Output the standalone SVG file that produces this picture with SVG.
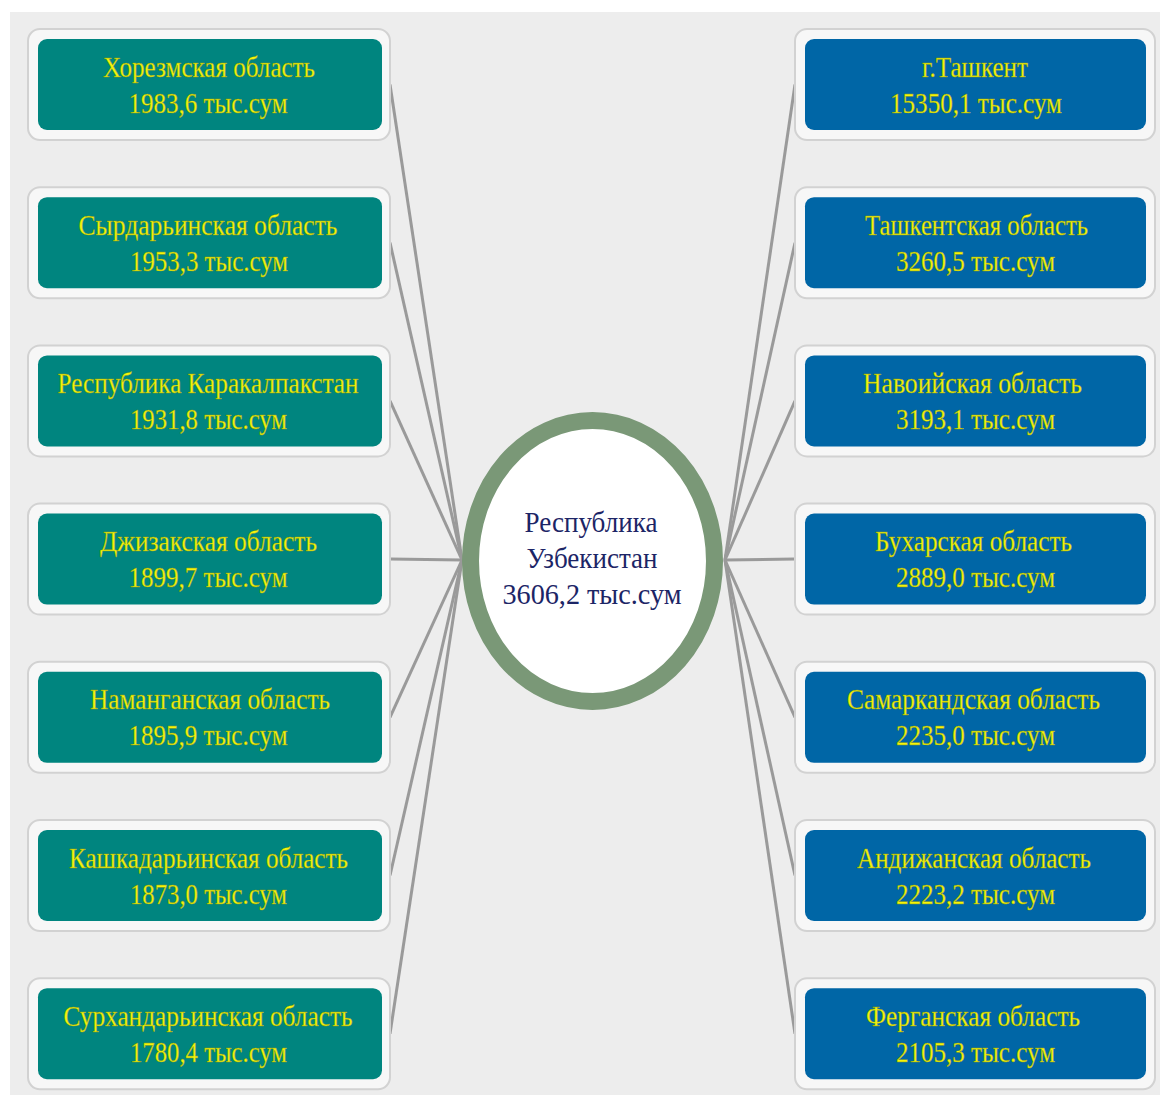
<svg xmlns="http://www.w3.org/2000/svg" width="1160" height="1097" viewBox="0 0 1160 1097">
<style>
.outer{fill:#f7f7f7;stroke:#d2d2d2;stroke-width:2}
.tl{fill:#00857f}
.bl{fill:#0066a6}
.t{font-family:"Liberation Serif","Times New Roman",serif;font-size:29px;fill:#f4f40c;text-anchor:middle;stroke:#8a9a10;stroke-width:0.4}
.c{font-family:"Liberation Serif","Times New Roman",serif;font-size:29px;fill:#1c2566;text-anchor:middle}
.ln{stroke:#9a9a9a;stroke-width:3;fill:none}
</style>
<rect x="10" y="12" width="1150" height="1083" fill="#ededed"/>
<g id="connectors">
<line class="ln" x1="390" y1="84.5" x2="462" y2="560"/>
<line class="ln" x1="390" y1="242.7" x2="462" y2="560"/>
<line class="ln" x1="390" y1="400.9" x2="462" y2="560"/>
<line class="ln" x1="390" y1="559.1" x2="462" y2="560"/>
<line class="ln" x1="390" y1="717.3" x2="462" y2="560"/>
<line class="ln" x1="390" y1="875.5" x2="462" y2="560"/>
<line class="ln" x1="390" y1="1033.7" x2="462" y2="560"/>
<line class="ln" x1="795" y1="84.5" x2="725" y2="560"/>
<line class="ln" x1="795" y1="242.7" x2="725" y2="560"/>
<line class="ln" x1="795" y1="400.9" x2="725" y2="560"/>
<line class="ln" x1="795" y1="559.1" x2="725" y2="560"/>
<line class="ln" x1="795" y1="717.3" x2="725" y2="560"/>
<line class="ln" x1="795" y1="875.5" x2="725" y2="560"/>
<line class="ln" x1="795" y1="1033.7" x2="725" y2="560"/>
</g>
<g id="center">
<ellipse cx="592.5" cy="561" rx="122" ry="140.5" fill="#ffffff" stroke="#7a9877" stroke-width="17"/>
<text class="c" x="591" y="532" textLength="133" lengthAdjust="spacingAndGlyphs">Республика</text>
<text class="c" x="592" y="568" textLength="131" lengthAdjust="spacingAndGlyphs">Узбекистан</text>
<text class="c" x="592" y="604" textLength="179" lengthAdjust="spacingAndGlyphs">3606,2 тыс.сум</text>
</g>
<g id="n-khorezm">
<rect class="outer" x="28" y="29" width="362" height="111" rx="12"/>
<rect class="tl" x="38" y="39" width="344" height="91" rx="9"/>
<text class="t" x="209" y="76.5" textLength="212" lengthAdjust="spacingAndGlyphs">Хорезмская область</text>
<text class="t" x="208" y="112.5" textLength="159" lengthAdjust="spacingAndGlyphs">1983,6 тыс.сум</text>
</g>
<g id="n-syrdarya">
<rect class="outer" x="28" y="187.2" width="362" height="111" rx="12"/>
<rect class="tl" x="38" y="197.2" width="344" height="91" rx="9"/>
<text class="t" x="208" y="234.7" textLength="259" lengthAdjust="spacingAndGlyphs">Сырдарьинская область</text>
<text class="t" x="209" y="270.7" textLength="158" lengthAdjust="spacingAndGlyphs">1953,3 тыс.сум</text>
</g>
<g id="n-karakalpakstan">
<rect class="outer" x="28" y="345.4" width="362" height="111" rx="12"/>
<rect class="tl" x="38" y="355.4" width="344" height="91" rx="9"/>
<text class="t" x="208" y="392.9" textLength="301" lengthAdjust="spacingAndGlyphs">Республика Каракалпакстан</text>
<text class="t" x="208.5" y="428.9" textLength="157" lengthAdjust="spacingAndGlyphs">1931,8 тыс.сум</text>
</g>
<g id="n-jizzakh">
<rect class="outer" x="28" y="503.6" width="362" height="111" rx="12"/>
<rect class="tl" x="38" y="513.6" width="344" height="91" rx="9"/>
<text class="t" x="208.5" y="551.1" textLength="217" lengthAdjust="spacingAndGlyphs">Джизакская область</text>
<text class="t" x="208" y="587.1" textLength="159" lengthAdjust="spacingAndGlyphs">1899,7 тыс.сум</text>
</g>
<g id="n-namangan">
<rect class="outer" x="28" y="661.8" width="362" height="111" rx="12"/>
<rect class="tl" x="38" y="671.8" width="344" height="91" rx="9"/>
<text class="t" x="210" y="709.3" textLength="240" lengthAdjust="spacingAndGlyphs">Наманганская область</text>
<text class="t" x="208" y="745.3" textLength="159" lengthAdjust="spacingAndGlyphs">1895,9 тыс.сум</text>
</g>
<g id="n-kashkadarya">
<rect class="outer" x="28" y="820" width="362" height="111" rx="12"/>
<rect class="tl" x="38" y="830" width="344" height="91" rx="9"/>
<text class="t" x="208.5" y="867.5" textLength="279" lengthAdjust="spacingAndGlyphs">Кашкадарьинская область</text>
<text class="t" x="208.5" y="903.5" textLength="157" lengthAdjust="spacingAndGlyphs">1873,0 тыс.сум</text>
</g>
<g id="n-surkhandarya">
<rect class="outer" x="28" y="978.2" width="362" height="111" rx="12"/>
<rect class="tl" x="38" y="988.2" width="344" height="91" rx="9"/>
<text class="t" x="208" y="1025.7" textLength="289" lengthAdjust="spacingAndGlyphs">Сурхандарьинская область</text>
<text class="t" x="208.5" y="1061.7" textLength="157" lengthAdjust="spacingAndGlyphs">1780,4 тыс.сум</text>
</g>
<g id="n-tashkent-city">
<rect class="outer" x="795" y="29" width="360" height="111" rx="12"/>
<rect class="bl" x="805" y="39" width="341" height="91" rx="9"/>
<text class="t" x="975" y="76.5" textLength="106" lengthAdjust="spacingAndGlyphs">г.Ташкент</text>
<text class="t" x="976" y="112.5" textLength="172" lengthAdjust="spacingAndGlyphs">15350,1 тыс.сум</text>
</g>
<g id="n-tashkent-region">
<rect class="outer" x="795" y="187.2" width="360" height="111" rx="12"/>
<rect class="bl" x="805" y="197.2" width="341" height="91" rx="9"/>
<text class="t" x="976.5" y="234.7" textLength="223" lengthAdjust="spacingAndGlyphs">Ташкентская область</text>
<text class="t" x="975.5" y="270.7" textLength="159" lengthAdjust="spacingAndGlyphs">3260,5 тыс.сум</text>
</g>
<g id="n-navoi">
<rect class="outer" x="795" y="345.4" width="360" height="111" rx="12"/>
<rect class="bl" x="805" y="355.4" width="341" height="91" rx="9"/>
<text class="t" x="972.5" y="392.9" textLength="219" lengthAdjust="spacingAndGlyphs">Навоийская область</text>
<text class="t" x="975.5" y="428.9" textLength="159" lengthAdjust="spacingAndGlyphs">3193,1 тыс.сум</text>
</g>
<g id="n-bukhara">
<rect class="outer" x="795" y="503.6" width="360" height="111" rx="12"/>
<rect class="bl" x="805" y="513.6" width="341" height="91" rx="9"/>
<text class="t" x="973.5" y="551.1" textLength="197" lengthAdjust="spacingAndGlyphs">Бухарская область</text>
<text class="t" x="975.5" y="587.1" textLength="159" lengthAdjust="spacingAndGlyphs">2889,0 тыс.сум</text>
</g>
<g id="n-samarkand">
<rect class="outer" x="795" y="661.8" width="360" height="111" rx="12"/>
<rect class="bl" x="805" y="671.8" width="341" height="91" rx="9"/>
<text class="t" x="973.5" y="709.3" textLength="253" lengthAdjust="spacingAndGlyphs">Самаркандская область</text>
<text class="t" x="975.5" y="745.3" textLength="159" lengthAdjust="spacingAndGlyphs">2235,0 тыс.сум</text>
</g>
<g id="n-andijan">
<rect class="outer" x="795" y="820" width="360" height="111" rx="12"/>
<rect class="bl" x="805" y="830" width="341" height="91" rx="9"/>
<text class="t" x="974" y="867.5" textLength="234" lengthAdjust="spacingAndGlyphs">Андижанская область</text>
<text class="t" x="975.5" y="903.5" textLength="159" lengthAdjust="spacingAndGlyphs">2223,2 тыс.сум</text>
</g>
<g id="n-fergana">
<rect class="outer" x="795" y="978.2" width="360" height="111" rx="12"/>
<rect class="bl" x="805" y="988.2" width="341" height="91" rx="9"/>
<text class="t" x="973" y="1025.7" textLength="214" lengthAdjust="spacingAndGlyphs">Ферганская область</text>
<text class="t" x="975.5" y="1061.7" textLength="159" lengthAdjust="spacingAndGlyphs">2105,3 тыс.сум</text>
</g>
</svg>
